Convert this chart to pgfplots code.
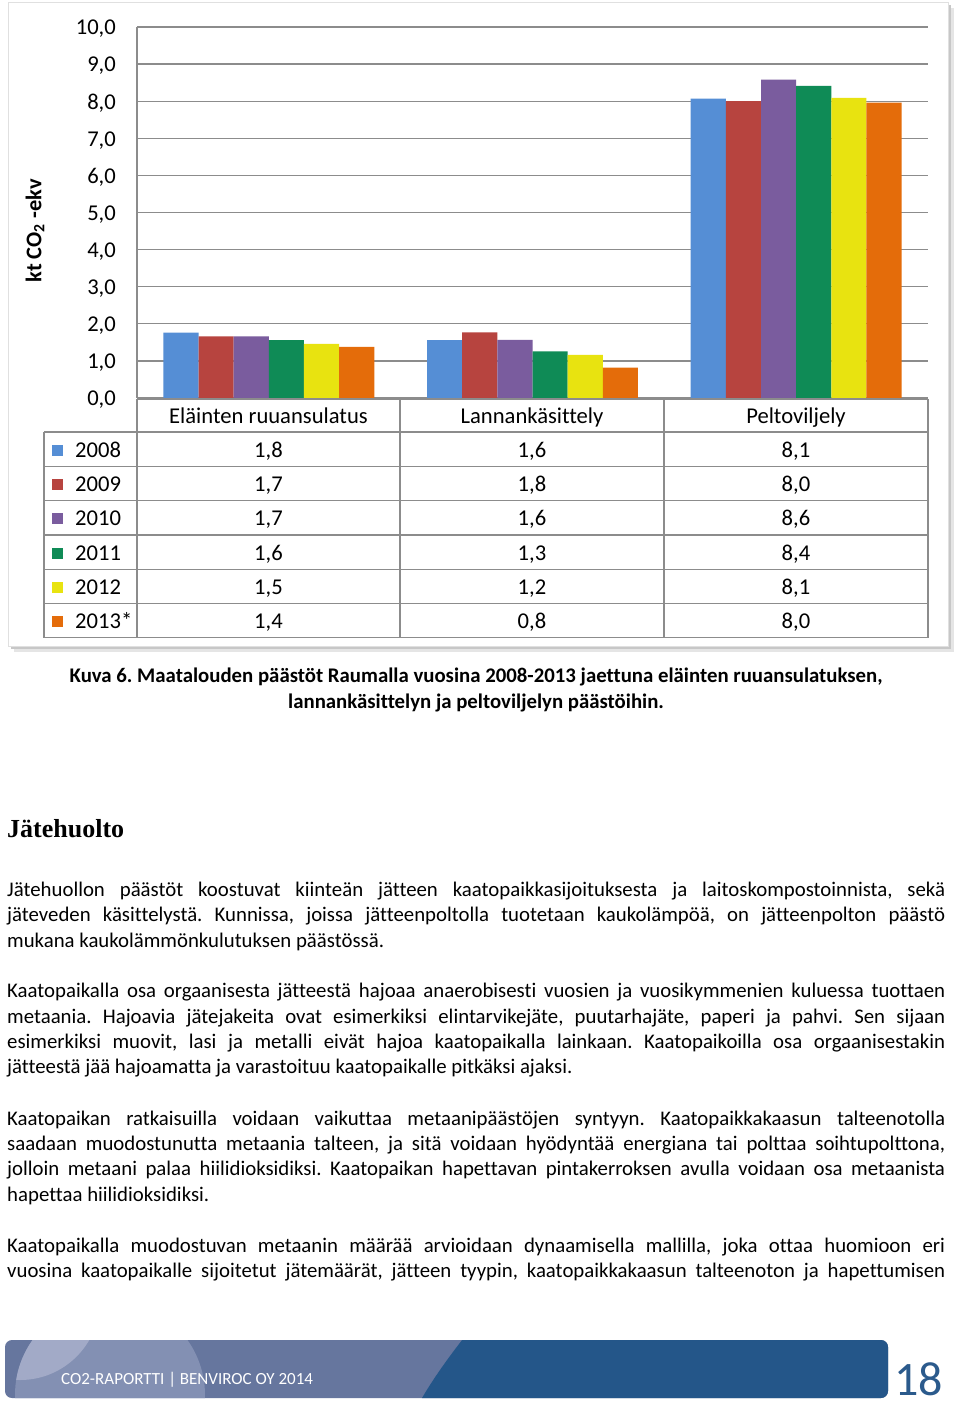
\documentclass[border=0pt]{standalone}
\usepackage{pgfplots}
\pgfplotsset{compat=1.18}
\usepackage{pgfplotstable}
\usepackage{fontspec}
\setmainfont{Carlito}[Ligatures={NoCommon}]
\newfontfamily\headfont{Liberation Serif}
\definecolor{c1}{HTML}{558ED5}
\definecolor{c2}{HTML}{B7443F}
\definecolor{c3}{HTML}{7A5C9E}
\definecolor{c4}{HTML}{0F8B56}
\definecolor{c5}{HTML}{E8E310}
\definecolor{c6}{HTML}{E46C0A}
\definecolor{gridc}{HTML}{8C8C8C}
\definecolor{fbase}{HTML}{66769E}
\definecolor{fcirc}{HTML}{8390B3}
\definecolor{flens}{HTML}{A2AAC7}
\definecolor{fdark}{HTML}{245689}
\definecolor{pnum}{HTML}{2B5A8C}

\pgfplotstableread{
x y0 y1 y2 y3 y4 y5
0 1.76 1.66 1.66 1.56 1.46 1.38
1 1.56 1.77 1.57 1.26 1.16 0.82
2 8.07 8.00 8.58 8.41 8.09 7.96
}\emis

\frenchspacing
\newcommand\bodyfont{\fontsize{20.8}{25}\selectfont}
\newcommand\chartfont{\fontsize{22.6}{24}\selectfont}
\newcommand\jline[2]{\node[anchor=base west,inner sep=0pt] at (7,#1) {\bodyfont\makebox[938pt][s]{#2}};}
\newcommand\lline[2]{\node[anchor=base west,inner sep=0pt] at (7,#1) {\bodyfont #2};}

\begin{document}
\begin{tikzpicture}[x=1pt,y=-1pt]
\path[use as bounding box] (0,0) rectangle (960,1403);
\fill[white] (0,0) rectangle (960,1403);
% chart frame with shadow
\fill[black!10] (14,8) rectangle (954,652);
\fill[black!22] (11,5) rectangle (951,649);
\filldraw[fill=white,draw=black!12] (8,2) rectangle (948,646);

\begin{scope}[x=1pt,y=1pt]
\begin{axis}[
  at={(137pt,-398pt)}, anchor=south west,
  scale only axis, width=791pt, height=371pt,
  xmin=-0.5, xmax=2.5, ymin=0, ymax=10,
  axis x line*=bottom, axis y line*=left,
  axis line style={gridc, line width=1.3pt},
  xtick=\empty,
  ytick={0,1,...,10},
  yticklabels={{0,0},{1,0},{2,0},{3,0},{4,0},{5,0},{6,0},{7,0},{8,0},{9,0},{10,0}},
  major tick length=0pt,
  yticklabel style={font=\chartfont, inner sep=0pt, anchor=east, xshift=-21pt, yshift=-2pt},
  ymajorgrids, grid style={gridc, line width=1.3pt},
  ybar, bar width=35.15pt,
  clip=false,
]
\addplot[fill=c1, draw=none, bar shift=-87.875pt] table[x=x,y=y0] {\emis};
\addplot[fill=c2, draw=none, bar shift=-52.725pt] table[x=x,y=y1] {\emis};
\addplot[fill=c3, draw=none, bar shift=-17.575pt] table[x=x,y=y2] {\emis};
\addplot[fill=c4, draw=none, bar shift=17.575pt] table[x=x,y=y3] {\emis};
\addplot[fill=c5, draw=none, bar shift=52.725pt] table[x=x,y=y4] {\emis};
\addplot[fill=c6, draw=none, bar shift=87.875pt] table[x=x,y=y5] {\emis};
\end{axis}
\end{scope}

% y axis title
\node[rotate=90, inner sep=0pt] at (35,231) {\fontsize{22.4}{24}\selectfont\bfseries kt CO\textsubscript{2} -ekv};

% data table
\begin{scope}[gridc, line width=1.3pt]
\draw (137,399) -- (928,399);
\draw (44,432) -- (928,432);
\foreach \i in {1,...,6} { \draw (44,{432+34.3*\i}) -- (928,{432+34.3*\i}); }
\draw (44,432) -- (44,637.8);
\draw (137,399) -- (137,637.8);
\draw (400,399) -- (400,637.8);
\draw (664,399) -- (664,637.8);
\draw (928,399) -- (928,637.8);
\end{scope}
\node[anchor=base, inner sep=0pt] at (268.5,423) {\chartfont Eläinten ruuansulatus};
\node[anchor=base, inner sep=0pt] at (532,423) {\chartfont Lannankäsittely};
\node[anchor=base, inner sep=0pt] at (796,423) {\chartfont Peltoviljely};
\foreach \yr/\col/\a/\b/\c [count=\i from 0] in {2008/c1/{1,8}/{1,6}/{8,1}, 2009/c2/{1,7}/{1,8}/{8,0}, 2010/c3/{1,7}/{1,6}/{8,6}, 2011/c4/{1,6}/{1,3}/{8,4}, 2012/c5/{1,5}/{1,2}/{8,1}, 2013*/c6/{1,4}/{0,8}/{8,0}} {
  \pgfmathsetmacro\yc{432+34.3*(\i+0.5)}
  \fill[\col] (52,\yc-4.5) rectangle (63,\yc+6.5);
  \node[anchor=base west, inner sep=0pt] at (75,\yc+8) {\chartfont \yr};
  \node[anchor=base, inner sep=0pt] at (268.5,\yc+8) {\chartfont \a};
  \node[anchor=base, inner sep=0pt] at (532,\yc+8) {\chartfont \b};
  \node[anchor=base, inner sep=0pt] at (796,\yc+8) {\chartfont \c};
}

% caption
\node[anchor=base, inner sep=0pt] at (476,682.5) {\fontsize{20.8}{22}\selectfont\bfseries Kuva 6. Maatalouden päästöt Raumalla vuosina 2008-2013 jaettuna eläinten ruuansulatuksen,};
\node[anchor=base, inner sep=0pt] at (476,708.5) {\fontsize{20.8}{22}\selectfont\bfseries lannankäsittelyn ja peltoviljelyn päästöihin.};

% heading
\node[anchor=base west, inner sep=0pt] at (7,837) {\headfont\fontsize{26}{28}\selectfont\bfseries Jätehuolto};

% body text
\jline{896.5}{Jätehuollon päästöt koostuvat kiinteän jätteen kaatopaikkasijoituksesta ja laitoskompostoinnista, sekä}
\jline{921.5}{jäteveden käsittelystä. Kunnissa, joissa jätteenpoltolla tuotetaan kaukolämpöä, on jätteenpolton päästö}
\lline{947}{mukana kaukolämmönkulutuksen päästössä.}

\jline{997.5}{Kaatopaikalla osa orgaanisesta jätteestä hajoaa anaerobisesti vuosien ja vuosikymmenien kuluessa tuottaen}
\jline{1023}{metaania. Hajoavia jätejakeita ovat esimerkiksi elintarvikejäte, puutarhajäte, paperi ja pahvi. Sen sijaan}
\jline{1048}{esimerkiksi muovit, lasi ja metalli eivät hajoa kaatopaikalla lainkaan. Kaatopaikoilla osa orgaanisestakin}
\lline{1073.5}{jätteestä jää hajoamatta ja varastoituu kaatopaikalle pitkäksi ajaksi.}

\jline{1125.5}{Kaatopaikan ratkaisuilla voidaan vaikuttaa metaanipäästöjen syntyyn. Kaatopaikkakaasun talteenotolla}
\jline{1150.5}{saadaan muodostunutta metaania talteen, ja sitä voidaan hyödyntää energiana tai polttaa soihtupolttona,}
\jline{1175.5}{jolloin metaani palaa hiilidioksidiksi. Kaatopaikan hapettavan pintakerroksen avulla voidaan osa metaanista}
\lline{1201}{hapettaa hiilidioksidiksi.}

\jline{1252.5}{Kaatopaikalla muodostuvan metaanin määrää arvioidaan dynaamisella mallilla, joka ottaa huomioon eri}
\jline{1277.5}{vuosina kaatopaikalle sijoitetut jätemäärät, jätteen tyypin, kaatopaikkakaasun talteenoton ja hapettumisen}

% footer
\begin{scope}
\clip[rounded corners=7pt] (5,1340) rectangle (888,1398);
\fill[fbase] (0,1330) rectangle (900,1405);
\fill[fcirc] (110,1395) circle (95);
\begin{scope}
\clip (110,1395) circle (95);
\fill[flens] (20,1300) circle (80);
\end{scope}
\fill[fdark] (466,1335) .. controls (448,1358) and (432,1380) .. (418,1405) -- (900,1405) -- (900,1335) -- cycle;
\end{scope}
\node[anchor=base west, inner sep=0pt, white] at (61,1384) {\fontsize{17}{18}\selectfont CO2-RAPORTTI | BENVIROC OY 2014};
\node[anchor=base west, inner sep=0pt, text=pnum] at (894,1395.5) {\fontsize{48}{50}\selectfont 18};
\end{tikzpicture}
\end{document}
